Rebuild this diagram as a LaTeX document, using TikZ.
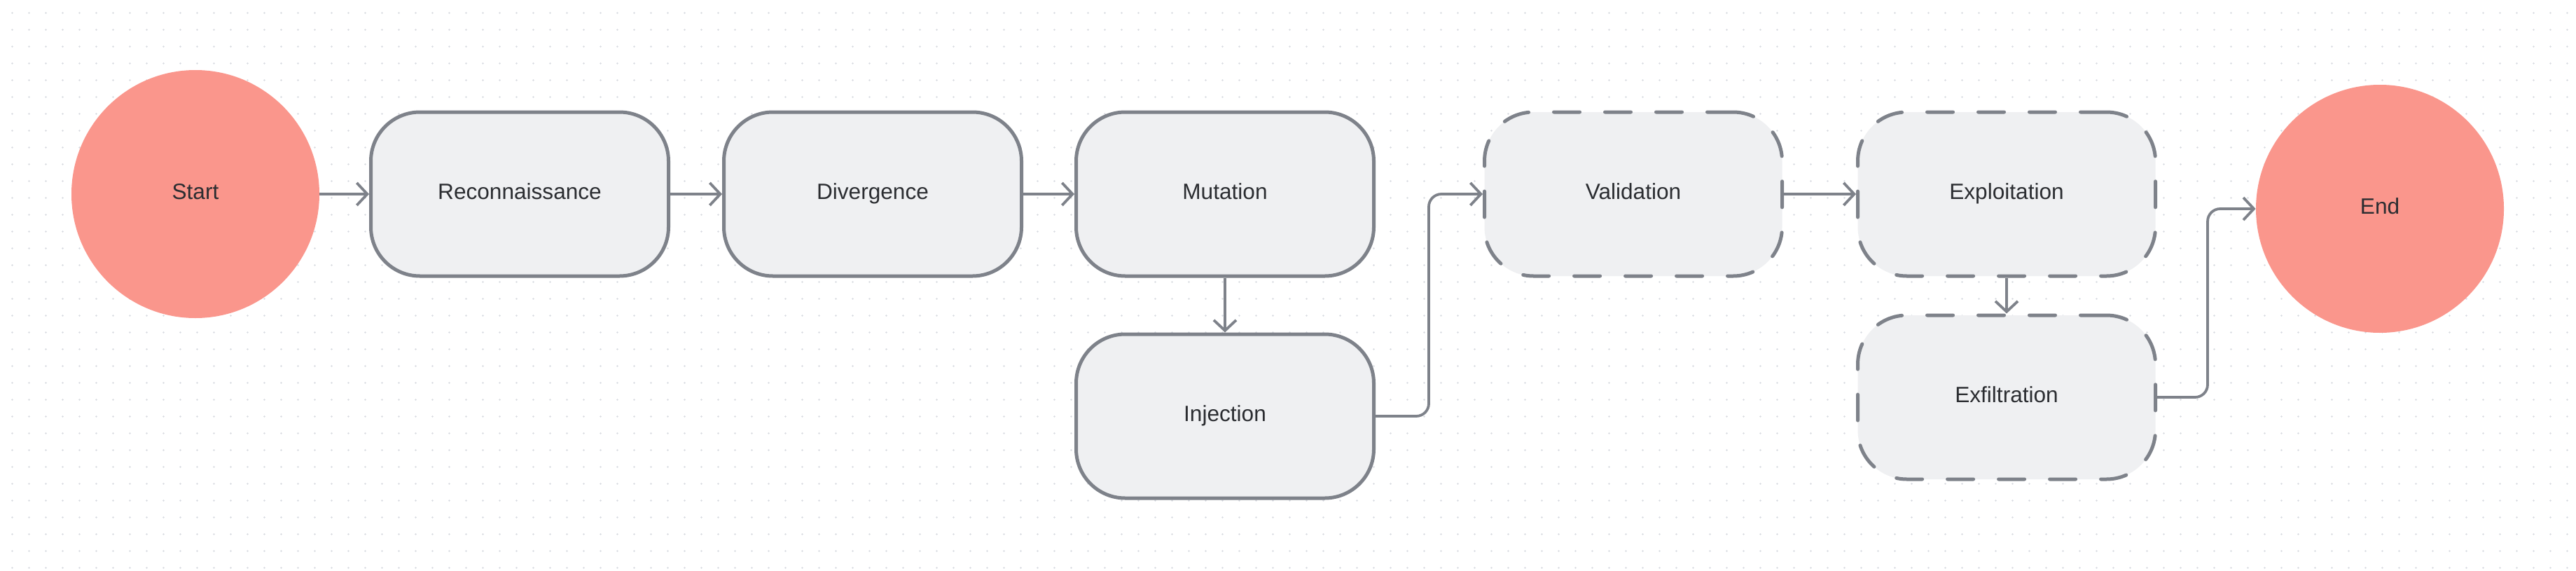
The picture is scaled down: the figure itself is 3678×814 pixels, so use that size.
\documentclass[tikz,border=0pt]{standalone}
\usepackage{fontspec}
\setmainfont{Liberation Sans}
\usetikzlibrary{arrows.meta}
\definecolor{salmon}{HTML}{FA968C}
\definecolor{boxfill}{HTML}{EFF0F2}
\definecolor{edge}{HTML}{7E828A}
\definecolor{ink}{HTML}{2B2D31}
\definecolor{dotc}{HTML}{D9DBE1}
\tikzset{
  lbl/.style={font=\fontsize{15.8}{18}\selectfont, text=ink, text height=0.716em, text depth=0pt},
  box/.style={rectangle, rounded corners=35pt, minimum width=212.5pt, minimum height=117pt,
    fill=boxfill, draw=edge, line width=2.5pt, lbl},
  dbox/.style={box, dash pattern=on 18.5pt off 18pt, line cap=round},
  term/.style={circle, fill=salmon, minimum size=177pt, inner sep=0pt, lbl},
  conn/.style={draw=edge, line width=1.9pt, rounded corners=9pt,
    -{Straight Barb[length=7.5pt, width=16pt]}}
}
\begin{document}
\begin{tikzpicture}[x=0.5pt,y=-0.5pt]
\useasboundingbox (0,0) rectangle (3678,814);
\fill[white] (0,0) rectangle (3678,814);
\foreach \i in {0,...,152} {
  \foreach \j in {0,...,33} {
    \fill[dotc] (17.5+24*\i, 18.5+24*\j) circle (1.4);
  }
}
\node[term] (start) at (279,277) {Start};
\node[box] (recon) at (742,277) {Reconnaissance};
\node[box] (div) at (1246,277) {Divergence};
\node[box] (mut) at (1749,277) {Mutation};
\node[box] (inj) at (1749,594) {Injection};
\node[dbox] (val) at (2332,277) {Validation};
\node[dbox] (expl) at (2865,277) {Exploitation};
\node[dbox] (exf) at (2865,567) {Exfiltration};
\node[term] (end) at (3398,298) {End};
\coordinate (vx) at (2040,0);
\coordinate (ex) at (3152,0);
\draw[conn] (start.east) -- (recon.west);
\draw[conn] (recon.east) -- (div.west);
\draw[conn] (div.east) -- (mut.west);
\draw[conn] (mut.south) -- (inj.north);
\draw[conn] (inj.east) -- (inj.east -| vx) |- (val.west);
\draw[conn] (val.east) -- (expl.west);
\draw[conn] (expl.south) -- (exf.north);
\draw[conn] (exf.east) -- (exf.east -| ex) |- (end.west);
\end{tikzpicture}
\end{document}
